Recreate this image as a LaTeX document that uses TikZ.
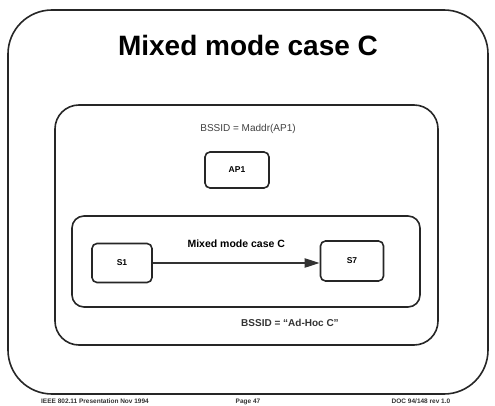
\documentclass[tikz,border=0pt]{standalone}
\usepackage{fontspec}
\setmainfont{Liberation Sans}
\usetikzlibrary{arrows.meta}
\begin{document}
\begin{tikzpicture}[x=1pt,y=-1pt,
  frame/.style={draw=black!85,line width=1.6pt},
  station/.style={draw=black!85,line width=1.6pt,rounded corners=5pt,
    minimum width=62pt,minimum height=38pt,font=\bfseries\fontsize{8.5}{10}\selectfont},
  small/.style={font=\fontsize{10}{12}\selectfont,text=black!75},
  foot/.style={font=\bfseries\fontsize{6.5}{7}\selectfont,text=black!80,anchor=base,inner sep=0pt}]
\useasboundingbox (0,0) rectangle (495,406);
% outer slide frame
\draw[frame,rounded corners=44pt] (8,10) rectangle (488,394);
\node (title) at (248,45) {\bfseries\fontsize{28}{32}\selectfont Mixed mode case C};
% infrastructure BSS
\draw[frame,rounded corners=24pt] (55,105) rectangle (438,345);
\node[small] (bssap) at (248,129) {BSSID = Maddr(AP1)};
\node[station,minimum width=64pt,minimum height=36pt] (ap) at (237,170) {AP1};
% ad-hoc BSS
\draw[frame,rounded corners=12pt] (72,216) rectangle (420,307);
\node[station,minimum width=60pt,minimum height=39pt] (s1) at (122,263) {S1};
\node[station,minimum width=63pt,minimum height=40pt] (s7) at (352,261) {S7};
\draw[line width=2.2pt,draw=black!80,-{Triangle[length=15pt,width=9pt]}] (s1.east) -- (s1.east -| s7.west)
  node[midway,above=11pt,font=\bfseries\fontsize{10.5}{12}\selectfont] (lbl) {Mixed mode case C};
\node[font=\bfseries\fontsize{10}{12}\selectfont,text=black!80] (bssadhoc) at (290,323) {BSSID = ``Ad-Hoc C''};
% footer
\node[foot] (f1) at (95,403) {IEEE 802.11 Presentation Nov 1994};
\node[foot] (f2) at (248,403) {Page 47};
\node[foot] (f3) at (421,403) {DOC 94/148 rev 1.0};
\end{tikzpicture}
\end{document}
